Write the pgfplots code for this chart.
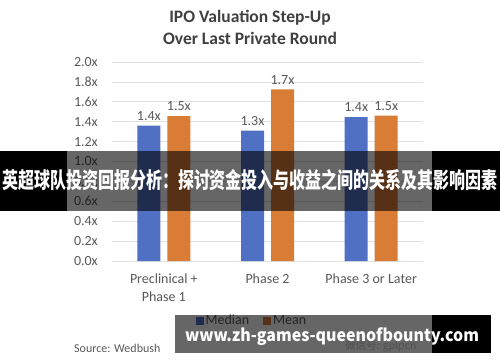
\documentclass[border=0pt]{standalone}
\usepackage{fontspec}
\setmainfont{Carlito}
\newfontfamily\cjk{Noto Sans CJK SC}
\usepackage{graphicx}
\usepackage{pgfplots}
\pgfplotsset{compat=1.18}
\definecolor{cblue}{HTML}{5070C4}
\definecolor{corange}{HTML}{D97C36}
\definecolor{tgray}{HTML}{595959}
\definecolor{ttl}{HTML}{404040}
\definecolor{gridc}{HTML}{E0E0E0}
\begin{document}
\begin{tikzpicture}
\useasboundingbox (0pt,0pt) rectangle (500pt,362pt);
\fill[white] (0pt,0pt) rectangle (500pt,362pt);
\node[anchor=base, font=\fontsize{17.5}{21}\selectfont\bfseries, text=ttl, inner sep=0pt] at (250pt,339pt) {IPO Valuation Step-Up};
\node[anchor=base, font=\fontsize{17.5}{21}\selectfont\bfseries, text=ttl, inner sep=0pt] at (250pt,317.5pt) {Over Last Private Round};
\begin{axis}[
  at={(112pt,101pt)}, anchor=south west, scale only axis,
  width=311pt, height=199pt,
  xmin=-0.5, xmax=2.5, ymin=0, ymax=2,
  ytick={0,0.2,0.4,0.6,0.8,1.0,1.2,1.4,1.6,1.8,2.0},
  yticklabel={\pgfmathprintnumber[fixed,fixed zerofill,precision=1]{\tick}x},
  /pgf/number format/assume math mode=true,
  ymajorgrids, grid style={draw=gridc, line width=0.8pt},
  axis line style={draw=none}, major tick length=0pt,
  xtick={0,1,2},
  xticklabels={{Preclinical +\\Phase 1},{Phase 2},{Phase 3 or Later}},
  xticklabel style={align=center, font=\fontsize{14}{18}\selectfont, text=tgray, inner sep=0pt, anchor=north, yshift=-13pt},
  yticklabel style={font=\fontsize{14}{17}\selectfont, text=tgray, inner sep=0pt, anchor=east, xshift=-14pt},
  legend style={at={(0.45,-0.30)}, anchor=center, draw=none, fill=none,
    legend columns=2, font=\fontsize{14}{17}\selectfont, text=tgray,
    /tikz/every even column/.append style={column sep=12pt}},
  legend image code/.code={\fill[#1] (0pt,-4pt) rectangle (8pt,4pt);},
  clip=false,
]
\addplot[ybar, bar width=23pt, bar shift=-15pt, fill=cblue, draw=none, forget plot,
  nodes near coords, point meta=explicit symbolic,
  every node near coord/.append style={font=\fontsize{14}{17}\selectfont, text=tgray, inner sep=0pt, anchor=south, yshift=5pt, xshift=-15pt}]
  coordinates {(0,1.36)[1.4x] (1,1.31)[1.3x] (2,1.445)[1.4x]};
\addplot[ybar, bar width=23pt, bar shift=15pt, fill=corange, draw=none, forget plot,
  nodes near coords, point meta=explicit symbolic,
  every node near coord/.append style={font=\fontsize{14}{17}\selectfont, text=tgray, inner sep=0pt, anchor=south, yshift=5pt, xshift=15pt}]
  coordinates {(0,1.455)[1.5x] (1,1.725)[1.7x] (2,1.46)[1.5x]};
\addlegendimage{fill=cblue, draw=none}
\addlegendentry{Median}
\addlegendimage{fill=corange, draw=none}
\addlegendentry{Mean}
\end{axis}
\node[anchor=base west, inner sep=0pt, text=tgray, font=\fontsize{12}{14}\selectfont] at (74pt,10pt) {Source: Wedbush};
\node[anchor=west, inner sep=0pt, text=black!22, font=\cjk\fontsize{10.5}{12}\selectfont] at (345pt,16pt) {微信号: gplpcn};
% banner overlay
\fill[black, opacity=0.6] (67pt,151pt) rectangle (432pt,211pt);
\fill[black] (0pt,151pt) rectangle (67pt,211pt);
\fill[black] (432pt,151pt) rectangle (500pt,211pt);
\node[anchor=base, inner sep=0pt, text=white] at (250pt,174pt) {\resizebox{496pt}{\height}{\cjk\bfseries\fontsize{22}{26}\selectfont 英超球队投资回报分析：探讨资金投入与收益之间的关系及其影响因素}};
% watermark overlay
\fill[black, opacity=0.6] (175pt,9.3pt) rectangle (432pt,47pt);
\fill[black] (432pt,9.3pt) rectangle (491pt,47pt);
\node[anchor=base, inner sep=0pt, text=white] at (332pt,21pt) {\resizebox{294pt}{\height}{\cjk\bfseries\fontsize{17}{20}\selectfont www.zh-games-queenofbounty.com}};
\end{tikzpicture}
\end{document}
